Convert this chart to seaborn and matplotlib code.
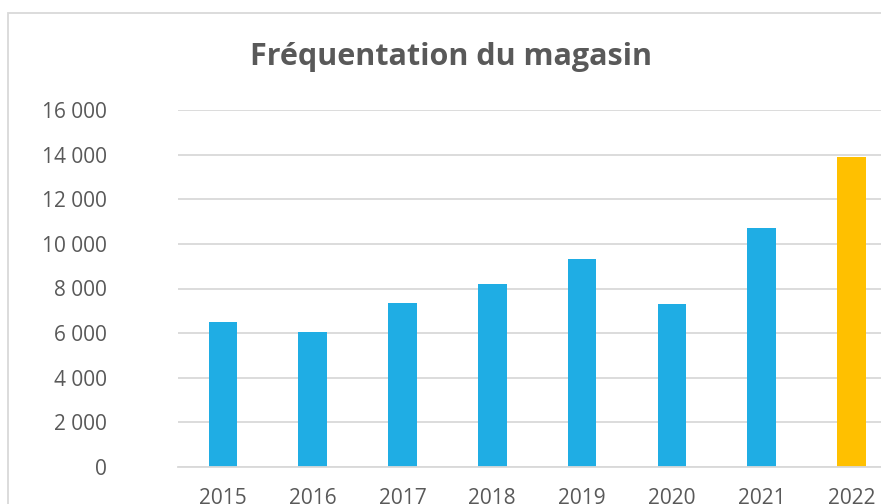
import matplotlib
matplotlib.use("Agg")
import matplotlib.pyplot as plt
from matplotlib.patches import Rectangle
from matplotlib.ticker import FuncFormatter
import seaborn as sns

# Data
years = ["2015", "2016", "2017", "2018", "2019", "2020", "2021", "2022"]
visits = [6500, 6050, 7350, 8200, 9300, 7300, 10700, 13900]
bar_colors = ["#1FADE4"] * 7 + ["#FFC000"]
y_ticks = [0, 2000, 4000, 6000, 8000, 10000, 12000, 14000, 16000]

sns.set_style("white")
plt.rcParams["font.family"] = ["Open Sans", "DejaVu Sans"]

text_color = "#595959"
grid_color = "#D9D9D9"

fig = plt.figure(figsize=(8.81, 5.04), dpi=100)
ax = fig.add_axes([178 / 881, 37 / 504, 718.4 / 881, 357 / 504])

sns.barplot(x=years, y=visits, hue=years, palette=bar_colors, legend=False,
            width=0.32, saturation=1, edgecolor="none", ax=ax)

ax.set_xlim(-0.5, 7.5)
ax.set_ylim(0, 16000)
ax.set_yticks(y_ticks)
ax.yaxis.set_major_formatter(FuncFormatter(lambda v, p: f"{int(v):,}".replace(",", " ")))
ax.yaxis.grid(True, color=grid_color, linewidth=1.3)
ax.set_axisbelow(True)
for side in ["top", "right", "left"]:
    ax.spines[side].set_visible(False)
ax.spines["bottom"].set_color(grid_color)
ax.spines["bottom"].set_linewidth(1.3)
ax.tick_params(axis="y", length=0, pad=51, labelsize=15, labelcolor=text_color)
ax.tick_params(axis="x", length=0, pad=15, labelsize=15, labelcolor=text_color)
ax.set_xlabel("")
ax.set_ylabel("")

# chart title, centred on the chart box
fig.text(451 / 881, 1 - 57 / 504, "Fréquentation du magasin", ha="center", va="center",
         fontsize=22, fontweight="bold", color=text_color)

# outer chart border (right and bottom sides fall outside the picture)
fig.patches.append(Rectangle((8 / 881, -0.2), 1.5, 1.2 - 13 / 504, fill=False,
                             edgecolor=grid_color, linewidth=1.3,
                             transform=fig.transFigure, figure=fig))

fig.savefig("out.png", dpi=100)
